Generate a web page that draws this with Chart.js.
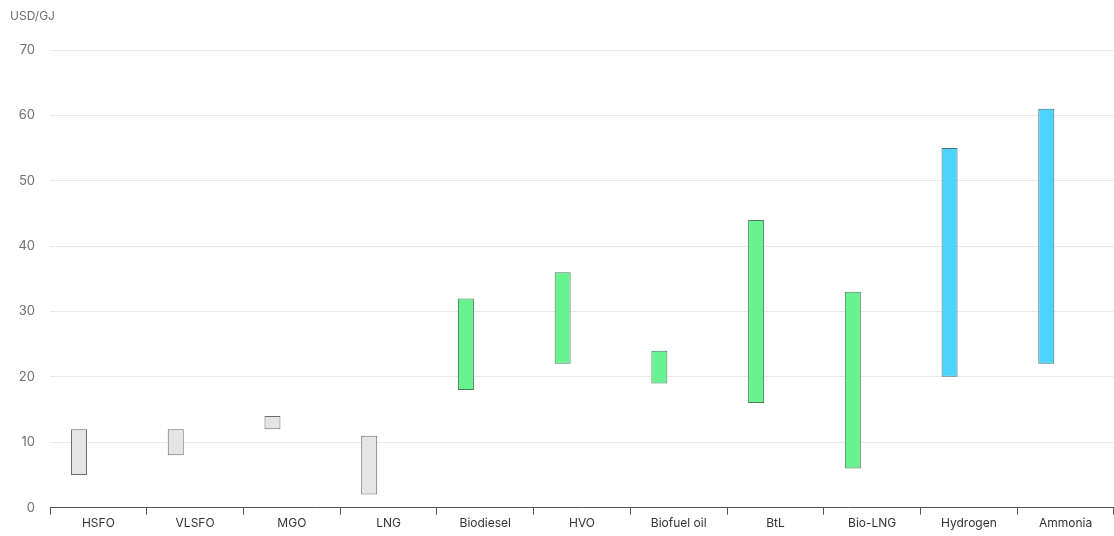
<!DOCTYPE html>
<html>
<head>
<meta charset="utf-8">
<script src="https://cdn.jsdelivr.net/npm/chart.js@4/dist/chart.umd.min.js"></script>
<style>
  body { margin: 0; background: #fff; }
  #wrap { width: 1114px; height: 536px; position: relative; }
</style>
</head>
<body>
<div id="wrap"><canvas id="costChart"></canvas></div>
<script>
// Fuel cost ranges, USD/GJ
const fuels = ['HSFO', 'VLSFO', 'MGO', 'LNG', 'Biodiesel', 'HVO', 'Biofuel oil', 'BtL', 'Bio-LNG', 'Hydrogen', 'Ammonia'];
const lowCost = [5, 8, 12, 2, 18, 22, 19, 16, 6, 20, 22];
const highCost = [12, 12, 14, 11, 32, 36, 24, 44, 33, 55, 61];
const fuelGroup = ['fossil', 'fossil', 'fossil', 'fossil', 'bio', 'bio', 'bio', 'bio', 'bio', 'efuel', 'efuel'];
const yTicks = [0, 10, 20, 30, 40, 50, 60, 70];
const unitLabel = 'USD/GJ';

const fillColours = { fossil: '#e5e5e5', bio: '#66f390', efuel: '#4dd4fd' };
const edgeColours = { fossil: '#6b6b6b', bio: '#4f7a5c', efuel: '#3f6f80' };

const ranges = fuels.map((f, i) => [lowCost[i], highCost[i]]);

// unit label in the top left corner
const unitPlugin = {
  id: 'unitLabel',
  afterDraw(chart) {
    const ctx = chart.ctx;
    ctx.save();
    ctx.font = '12px Inter';
    ctx.fillStyle = '#6f6f6f';
    ctx.textBaseline = 'middle';
    ctx.fillText(unitLabel, 10, 16);
    ctx.restore();
  }
};

let costChart = new Chart(document.getElementById('costChart').getContext('2d'), {
  type: 'bar',
  data: {
    labels: fuels,
    datasets: [{
      label: 'Cost range',
      data: ranges,
      backgroundColor: fuelGroup.map(g => fillColours[g]),
      borderColor: fuelGroup.map(g => edgeColours[g]),
      borderWidth: 1,
      borderSkipped: false
    }, {
      // empty second series, keeps the bars left of centre like the original
      label: '',
      data: fuels.map(() => null)
    }]
  },
  plugins: [unitPlugin],
  options: {
    responsive: true,
    maintainAspectRatio: false,
    animation: false,
    layout: { padding: { left: 0, right: 0, top: 50, bottom: 3 } },
    plugins: {
      legend: { display: false },
      tooltip: { enabled: false }
    },
    datasets: { bar: { categoryPercentage: 0.8, barPercentage: 0.6, maxBarThickness: 16 } },
    scales: {
      x: {
        offset: true,
        grid: {
          offset: true,
          drawOnChartArea: false,
          drawTicks: true,
          tickLength: 7,
          color: '#555'
        },
        border: { display: true, color: '#555', width: 1 },
        ticks: {
          color: '#333',
          padding: 2,
          font: { family: 'Inter', size: 12 }
        }
      },
      y: {
        min: 0,
        max: 70,
        afterBuildTicks: scale => { scale.ticks = yTicks.map(v => ({ value: v })); },
        afterFit: scale => { scale.width = 50; },
        grid: { color: '#e9e9e9', drawTicks: false },
        border: { display: false },
        ticks: {
          color: '#6f6f6f',
          padding: 15,
          font: { family: 'Inter', size: 13 }
        }
      }
    }
  }
});
</script>
</body>
</html>
